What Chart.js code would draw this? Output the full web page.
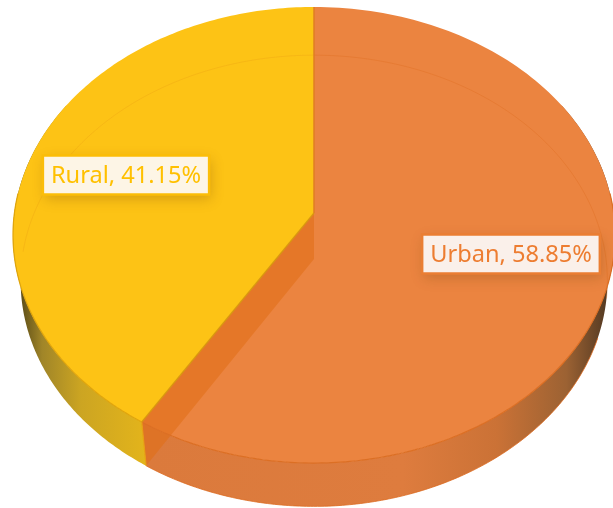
<!DOCTYPE html>
<html>
<head>
<meta charset="utf-8">
<script src="https://cdn.jsdelivr.net/npm/chart.js@4/dist/chart.umd.js"></script>
<style>
  html, body { margin: 0; padding: 0; background: #fff; }
  canvas { display: block; }
</style>
</head>
<body>
<canvas id="chart" width="613" height="508"></canvas>
<script>
// Area share, drawn clockwise from 12 o'clock
const categories = ['Urban', 'Rural'];
const shares = [58.85, 41.15];

const topColors = ['#EB8440', '#FDC315'];
const edgeColors = ['#DC6F24', '#E0A50C'];
const labelColors = ['#ED7D31', '#FFC000'];
const labelFills = ['#FAF0EA', '#FDF5E6'];
const labelBorders = ['#EA7E33', '#FBBD08'];
const labelCentres = [[511, 254], [126, 175]];

// tilted disc: both faces are a circle seen in perspective
const topFace = { x: 314, y: 213, a: 299.6, b: 225.9, k: 0.0965 };
const bottomFace = { x: 314, y: 259, a: 292, b: 223.5, k: 0.0965 };

function project(face, t) {
    const d = 1 - face.k * Math.sin(t);
    return [face.x + face.a * Math.cos(t) / d, face.y + face.b * Math.sin(t) / d];
}

function arcPath(ctx, face, from, to, first) {
    const steps = 160;
    for (let i = 0; i <= steps; i++) {
        const p = project(face, from + (to - from) * i / steps);
        if (i === 0 && first) ctx.moveTo(p[0], p[1]);
        else ctx.lineTo(p[0], p[1]);
    }
}

function wallGradient(ctx, x0, x1, stops) {
    const g = ctx.createLinearGradient(x0, 0, x1, 0);
    stops.forEach(s => g.addColorStop(s[0], s[1]));
    return g;
}

const tiltedPie = {
    id: 'tiltedPie',
    beforeDatasetsDraw(chart) {
        const ctx = chart.ctx;
        const arcs = chart.getDatasetMeta(0).data;
        const urban = arcs[0];
        const rural = arcs[1];
        const rad = Math.PI / 180;

        ctx.save();
        ctx.lineJoin = 'round';

        // outer walls
        const walls = [
            [urban.startAngle < -30 * rad ? -30 * rad : urban.startAngle, urban.endAngle,
                wallGradient(ctx, 146, 613, [[0, '#DB7A3C'], [0.55, '#DE7C3E'], [0.75, '#CB7236'], [0.9, '#9C6233'], [1, '#4A3420']]), '#DC6A1E'],
            [rural.startAngle, 210 * rad,
                wallGradient(ctx, 16, 146, [[0, '#4E4114'], [0.2, '#A08528'], [0.5, '#CCA522'], [1, '#E3B41B']]), '#E2A80E']
        ];
        walls.forEach(w => {
            ctx.beginPath();
            arcPath(ctx, topFace, w[0], w[1], true);
            arcPath(ctx, bottomFace, w[1], w[0], false);
            ctx.closePath();
            ctx.fillStyle = w[2];
            ctx.fill();
        });

        // top faces
        arcs.forEach((arc, i) => {
            ctx.beginPath();
            ctx.moveTo(topFace.x, topFace.y);
            arcPath(ctx, topFace, arc.startAngle, arc.endAngle, false);
            ctx.closePath();
            ctx.fillStyle = topColors[i];
            ctx.fill();
        });

        // cut face showing through the translucent urban slice
        const cutTop = project(topFace, urban.endAngle);
        const cutBottom = project(bottomFace, urban.endAngle);
        ctx.beginPath();
        ctx.moveTo(topFace.x, topFace.y);
        ctx.lineTo(cutTop[0], cutTop[1]);
        ctx.lineTo(cutBottom[0], cutBottom[1]);
        ctx.lineTo(bottomFace.x, bottomFace.y);
        ctx.closePath();
        ctx.fillStyle = 'rgba(224, 110, 20, 0.55)';
        ctx.fill();

        // back rim of the bottom face, faintly visible through the top
        ctx.lineWidth = 1;
        ctx.beginPath();
        arcPath(ctx, bottomFace, rural.startAngle + 60 * rad, 270 * rad, true);
        ctx.strokeStyle = 'rgba(236, 160, 20, 0.35)';
        ctx.stroke();
        ctx.beginPath();
        arcPath(ctx, bottomFace, -90 * rad, 10 * rad, true);
        ctx.strokeStyle = 'rgba(220, 105, 30, 0.35)';
        ctx.stroke();

        // edges
        ctx.lineWidth = 1.2;
        arcs.forEach((arc, i) => {
            ctx.beginPath();
            arcPath(ctx, topFace, Math.max(arc.startAngle, -5 * rad), Math.min(arc.endAngle, 185 * rad), true);
            ctx.strokeStyle = edgeColors[i];
            ctx.stroke();
        });
        ctx.lineWidth = 0.8;
        ctx.beginPath();
        arcPath(ctx, bottomFace, 20 * rad, urban.endAngle, true);
        ctx.strokeStyle = '#DC6A1E';
        ctx.stroke();

        ctx.lineWidth = 1.2;
        ctx.beginPath();
        ctx.moveTo(cutTop[0], cutTop[1]);
        ctx.lineTo(topFace.x, topFace.y);
        ctx.strokeStyle = '#D9970E';
        ctx.stroke();
        ctx.beginPath();
        ctx.moveTo(cutTop[0], cutTop[1]);
        ctx.lineTo(cutBottom[0], cutBottom[1]);
        ctx.strokeStyle = '#E8A012';
        ctx.stroke();
        const back = project(topFace, -90 * rad);
        ctx.beginPath();
        ctx.moveTo(back[0], back[1]);
        ctx.lineTo(topFace.x, topFace.y);
        ctx.lineWidth = 1.5;
        ctx.strokeStyle = '#DF7E22';
        ctx.stroke();

        ctx.restore();
        return false;
    },
    afterDraw(chart) {
        const ctx = chart.ctx;
        ctx.save();
        ctx.font = '23.6px "Noto Sans"';
        ctx.textAlign = 'center';
        ctx.textBaseline = 'middle';
        categories.forEach((name, i) => {
            const text = name + ', ' + shares[i].toFixed(2) + '%';
            const c = labelCentres[i];
            const w = ctx.measureText(text).width + 16;
            const h = 39;
            ctx.save();
            ctx.shadowColor = 'rgba(120, 70, 10, 0.28)';
            ctx.shadowBlur = 12;
            ctx.shadowOffsetX = 2;
            ctx.shadowOffsetY = 4;
            ctx.fillStyle = labelFills[i];
            ctx.fillRect(c[0] - w / 2, c[1] - h / 2, w, h);
            ctx.restore();
            ctx.lineWidth = 2.5;
            ctx.strokeStyle = labelBorders[i];
            ctx.strokeRect(c[0] - w / 2, c[1] - h / 2, w, h);
            ctx.fillStyle = labelColors[i];
            ctx.fillText(text, c[0], c[1] + 1);
        });
        ctx.restore();
    }
};

new Chart(document.getElementById('chart'), {
    type: 'pie',
    plugins: [tiltedPie],
    data: {
        labels: categories,
        datasets: [{ data: shares, backgroundColor: topColors, borderWidth: 0 }]
    },
    options: {
        responsive: false,
        animation: false,
        plugins: {
            legend: { display: false },
            title: { display: false },
            tooltip: { enabled: false }
        }
    }
});
</script>
</body>
</html>
